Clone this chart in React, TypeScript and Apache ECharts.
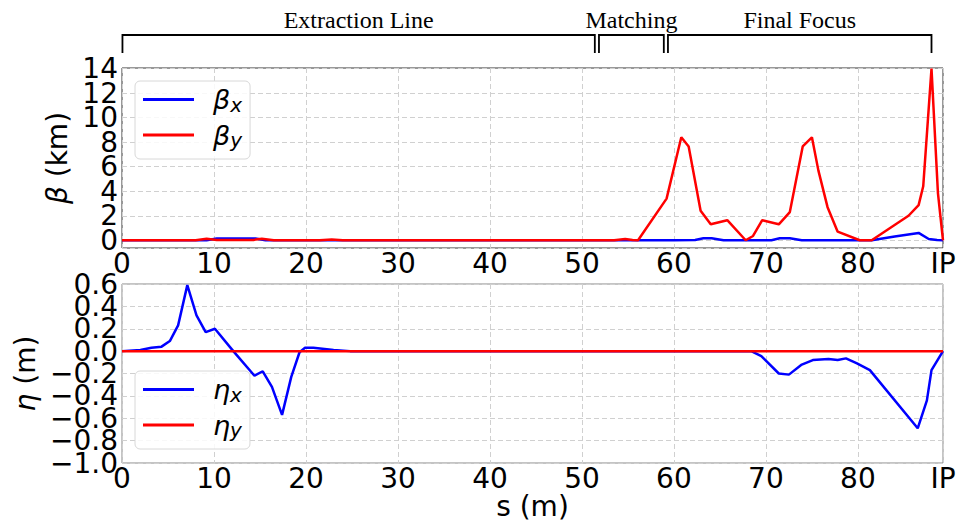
import React, { useEffect, useRef } from 'react';
import * as echarts from 'echarts';

// s positions (m) and values
const S_IP = 89.25;
const X_TICK_INTERVAL = 10;

const BETA_X_S = [0, 9.2, 10.3, 14.5, 15.6, 60.0, 62.3, 63.2, 64.1, 65.4, 70.6, 71.5, 72.6, 73.9, 81.5, 84.0, 86.6, 87.7, 88.6, 89.25];
const BETA_X_V = [0, 0, 0.14, 0.14, 0, 0, 0.03, 0.16, 0.16, 0, 0, 0.16, 0.16, 0, 0, 0.3, 0.6, 0.1, 0.02, 0];

const BETA_Y_S = [0, 8.0, 9.2, 10.3, 14.3, 15.2, 16.5, 21.5, 22.8, 24.0, 53.5, 54.7, 55.5, 56.1, 59.2, 60.8, 61.6, 62.9, 64.0, 65.8, 67.8, 68.6, 69.6, 71.4, 72.6, 74.0, 75.0, 75.7, 76.7, 77.8, 80.2, 81.5, 85.5, 86.6, 87.1, 88.0, 88.7, 89.25];
const BETA_Y_V = [0, 0, 0.12, 0.03, 0.03, 0.12, 0, 0, 0.07, 0, 0, 0.1, 0.02, 0, 3.4, 8.4, 7.65, 2.4, 1.3, 1.64, 0, 0.35, 1.64, 1.3, 2.3, 7.65, 8.4, 5.7, 2.7, 0.7, 0, 0, 2.0, 2.87, 4.4, 14.0, 3.85, 0];

const ETA_X_S = [0, 2.0, 3.2, 4.3, 5.2, 6.1, 7.1, 8.1, 9.1, 10.1, 12.1, 14.4, 15.3, 16.3, 17.4, 18.4, 19.3, 19.9, 20.8, 23.0, 24.8, 68.4, 69.5, 71.4, 72.5, 73.9, 75.1, 76.8, 77.8, 78.7, 79.9, 81.3, 86.5, 87.5, 88.0, 89.25];
const ETA_X_V = [0, 0.01, 0.03, 0.04, 0.09, 0.23, 0.59, 0.32, 0.17, 0.2, 0, -0.22, -0.18, -0.32, -0.57, -0.23, -0.01, 0.03, 0.03, 0.01, 0, 0, -0.045, -0.2, -0.21, -0.12, -0.08, -0.07, -0.08, -0.065, -0.11, -0.17, -0.69, -0.44, -0.17, 0];

const ETA_Y_S = [0, 89.25];
const ETA_Y_V = [0, 0];

const BETA_TICKS = [0, 2, 4, 6, 8, 10, 12, 14];
const ETA_MIN = -1.0;
const ETA_MAX = 0.6;
const ETA_TICK_INTERVAL = 0.2;

const SECTION_NAMES = ['Extraction Line', 'Matching', 'Final Focus'];
const SECTION_START = [0.05, 51.85, 59.35];
const SECTION_END = [51.4, 58.9, 88.0];

const zip = (s: number[], v: number[]) => s.map((x, i) => [x, v[i]]);

const SANS = '"DejaVu Sans", sans-serif';
const SERIF = '"Liberation Serif", "DejaVu Serif", serif';
const BLUE = '#0000ff';
const RED = '#ff0000';
const TICK_FONT = 28;

const LEGEND_LABELS: Record<string, string> = {
  'βx': '{b|β}{s|x}',
  'βy': '{b|β}{s|y}',
  'ηx': '{b|η}{s|x}',
  'ηy': '{b|η}{s|y}',
};

const legendRich = {
  b: { fontSize: 27, fontStyle: 'italic', fontFamily: SANS, color: '#000', lineHeight: 30, padding: [0, 0, 0, 14] },
  s: { fontSize: 20, fontStyle: 'italic', fontFamily: SANS, color: '#000', lineHeight: 18, verticalAlign: 'bottom' },
};

const xLabelFormatter = (v: number) => {
  if (Math.abs(v - S_IP) < 1e-6) return 'IP';
  if (Math.abs(v % X_TICK_INTERVAL) < 1e-6) return String(Math.round(v));
  return '';
};

const etaFmt = (v: number) => {
  const r = Math.round(v * 10) / 10;
  const s = Math.abs(r).toFixed(1);
  return r < 0 ? '\u2212' + s : s;
};

const splitLineStyle = { show: true, lineStyle: { color: '#d0d0d0', type: [5, 3] as any, width: 1 } };

export default function App() {
  const ref = useRef<HTMLDivElement>(null);
  useEffect(() => {
    if (!ref.current) return;
    const chart = echarts.init(ref.current, undefined, { renderer: 'svg' });
    const legendBase = {
      orient: 'vertical',
      left: 135,
      icon: 'rect',
      itemWidth: 51,
      itemHeight: 3,
      itemGap: 7,
      padding: [5, 8, 9, 8],
      backgroundColor: 'rgba(255,255,255,0.85)',
      borderColor: '#d8d8d8',
      borderWidth: 1,
      borderRadius: 5,
      selectedMode: false,
      formatter: (n: string) => LEGEND_LABELS[n] || n,
      textStyle: { fontSize: 27, fontFamily: SANS, color: '#000', rich: legendRich },
    };
    const labelBase = { color: '#000', fontSize: TICK_FONT, fontFamily: SANS, margin: 4 };
    const option: any = {
      animation: false,
      backgroundColor: '#fff',
      grid: [
        { left: 122, right: 26, top: 68, height: 180, show: true, borderColor: '#333', borderWidth: 1, backgroundColor: 'transparent', containLabel: false, outerBoundsMode: 'none' },
        { left: 122, right: 26, top: 284, height: 179, show: true, borderColor: '#888', borderWidth: 1, backgroundColor: 'transparent', containLabel: false, outerBoundsMode: 'none' },
      ],
      xAxis: [0, 1].map((g) => ({
        type: 'value',
        gridIndex: g,
        position: 'bottom',
        min: 0,
        max: S_IP,
        interval: X_TICK_INTERVAL,
        axisLine: { show: false },
        axisTick: { show: false },
        splitLine: splitLineStyle,
        axisLabel: { color: '#000', fontSize: TICK_FONT, fontFamily: SANS, margin: 1, showMinLabel: true, showMaxLabel: true, formatter: xLabelFormatter },
        name: g === 1 ? 's (m)' : '',
        nameLocation: 'middle',
        nameGap: 29,
        nameTextStyle: { color: '#000', fontSize: TICK_FONT, fontFamily: SANS },
      })),
      yAxis: [
        {
          type: 'value',
          gridIndex: 0,
          position: 'left',
          min: -0.63,
          max: 14.05,
          splitNumber: 7,
          axisLine: { show: false },
          axisTick: { show: false },
          splitLine: splitLineStyle,
          axisLabel: {
            ...labelBase,
            formatter: (v: number) => (BETA_TICKS.some((t) => Math.abs(t - v) < 1e-6) ? String(Math.round(v)) : ''),
          },
          name: '{i|β} (km)',
          nameLocation: 'middle',
          nameGap: 47,
          nameTextStyle: {
            color: '#000', fontSize: TICK_FONT, fontFamily: SANS,
            rich: { i: { fontStyle: 'italic', fontSize: TICK_FONT, fontFamily: SANS, color: '#000' } },
          },
        },
        {
          // inner η ticks (−0.8 … 0.4) with grid lines
          type: 'value',
          gridIndex: 1,
          position: 'left',
          offset: 0,
          min: ETA_MIN,
          max: ETA_MAX,
          interval: ETA_TICK_INTERVAL,
          axisLine: { show: false },
          axisTick: { show: false },
          splitLine: splitLineStyle,
          axisLabel: { ...labelBase, showMinLabel: false, showMaxLabel: false, formatter: etaFmt },
          name: '{i|η} (m)',
          nameLocation: 'middle',
          nameGap: 79,
          nameTextStyle: {
            color: '#000', fontSize: TICK_FONT, fontFamily: SANS,
            rich: { i: { fontStyle: 'italic', fontSize: TICK_FONT, fontFamily: SANS, color: '#000' } },
          },
        },
        {
          // end labels of the η axis (−1.0 and 0.6)
          type: 'value',
          gridIndex: 1,
          position: 'left',
          offset: 0,
          min: ETA_MIN,
          max: ETA_MAX,
          interval: ETA_MAX - ETA_MIN,
          axisLine: { show: false },
          axisTick: { show: false },
          splitLine: { show: false },
          axisLabel: { ...labelBase, showMinLabel: true, showMaxLabel: true, formatter: etaFmt },
        },
      ],
      legend: [
        { ...legendBase, top: 81, data: ['βx', 'βy'] },
        { ...legendBase, top: 371, data: ['ηx', 'ηy'] },
      ],
      series: [
        { name: 'βx', type: 'line', xAxisIndex: 0, yAxisIndex: 0, data: zip(BETA_X_S, BETA_X_V), showSymbol: false, color: BLUE, lineStyle: { width: 2.5, color: BLUE } },
        { name: 'βy', type: 'line', xAxisIndex: 0, yAxisIndex: 0, data: zip(BETA_Y_S, BETA_Y_V), showSymbol: false, color: RED, lineStyle: { width: 2.5, color: RED } },
        { name: 'ηx', type: 'line', xAxisIndex: 1, yAxisIndex: 1, data: zip(ETA_X_S, ETA_X_V), showSymbol: false, color: BLUE, lineStyle: { width: 2.5, color: BLUE } },
        { name: 'ηy', type: 'line', xAxisIndex: 1, yAxisIndex: 1, data: zip(ETA_Y_S, ETA_Y_V), showSymbol: false, color: RED, lineStyle: { width: 2.5, color: RED } },
      ],
    };
    chart.setOption(option);

    const px = (v: number) => chart.convertToPixel({ xAxisIndex: 0 }, v) as number;
    const graphics: any[] = [];
    SECTION_NAMES.forEach((name, i) => {
      const x0 = px(SECTION_START[i]);
      const x1 = px(SECTION_END[i]);
      graphics.push({
        type: 'polyline',
        shape: { points: [[x0, 53], [x0, 35], [x1, 35], [x1, 53]] },
        style: { stroke: '#000', lineWidth: 1.8, fill: null },
      });
      graphics.push({
        type: 'text',
        x: (x0 + x1) / 2,
        y: 20,
        style: { text: name, fontSize: 24, fontFamily: SERIF, fill: '#000', align: 'center', verticalAlign: 'middle' },
      });
    });
    chart.setOption({ graphic: graphics });

    return () => chart.dispose();
  }, []);
  return <div ref={ref} style={{ position: 'fixed', left: 0, top: 0, width: 969, height: 522, background: '#fff' }} />;
}
